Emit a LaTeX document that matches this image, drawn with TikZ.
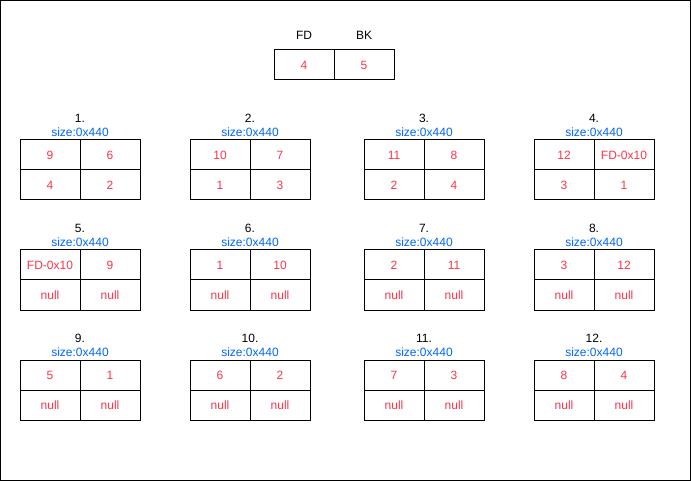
\documentclass[tikz,border=0pt]{standalone}
\usepackage{fontspec}
\setmainfont{Liberation Sans}
\usetikzlibrary{positioning}
\definecolor{valred}{HTML}{FF3348}
\definecolor{sizeblue}{HTML}{0066FF}
\tikzset{
  cell/.style={draw, line width=1pt, minimum width=60pt, minimum height=30pt,
    inner sep=0pt, text=valred, font=\fontsize{12}{14}\selectfont},
  numlbl/.style={inner sep=0pt, font=\fontsize{12}{14}\selectfont},
  sizelbl/.style={inner sep=0pt, text=sizeblue, font=\fontsize{12}{14}\selectfont}
}

\begin{document}
\begin{tikzpicture}[x=1pt,y=-1pt]
\useasboundingbox (0,0) rectangle (691,481);
\draw[line width=1pt] (0.5,0.5) rectangle (690.5,480.5);

% head cells
\node[cell](FD) at (304,65) {4};
\node[cell](BK) at (364,65) {5};
\node[numlbl](FDlbl) at (304,35) {FD};
\node[numlbl](BKlbl) at (364,35) {BK};

% chunks
\foreach \n/\x/\y/\a/\b/\c/\d in {
  1/20/140/9/6/4/2, 2/190/140/10/7/1/3, 3/364/140/11/8/2/4, 4/534/140/12/FD-0x10/3/1,
  5/20/250/FD-0x10/9/null/null, 6/190/250/1/10/null/null, 7/364/250/2/11/null/null, 8/534/250/3/12/null/null,
  9/20/360/5/1/null/null, 10/190/360/6/2/null/null, 11/364/360/7/3/null/null, 12/534/360/8/4/null/null}{
  \node[cell](C\n-a) at (\x+30,\y+15) {\a};
  \node[cell](C\n-b) at (\x+90,\y+15) {\b};
  \node[cell](C\n-c) at (\x+30,\y+45) {\c};
  \node[cell](C\n-d) at (\x+90,\y+45) {\d};
  \node[numlbl](N\n) at (\x+60,\y-22) {\n.};
  \node[sizelbl](S\n) at (\x+60,\y-8) {size:0x440};
}
\end{tikzpicture}
\end{document}
